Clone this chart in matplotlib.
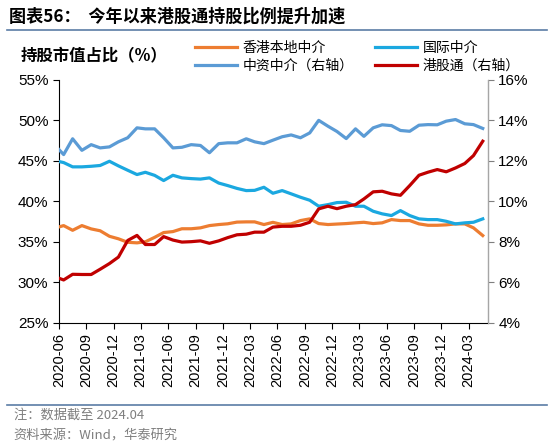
import numpy as np
import pandas as pd
import matplotlib
matplotlib.use("Agg")
from matplotlib import pyplot as plt
import matplotlib.dates as mdates
from matplotlib.lines import Line2D

plt.rcParams['font.family'] = ['Liberation Sans', 'Noto Sans CJK SC', 'DejaVu Sans']
cjk = ['Noto Sans CJK SC', 'DejaVu Sans']

# monthly points, 2020-05 .. 2024-04 (first one sits just left of the axis)
dates = pd.date_range("2020-05-01", periods=48, freq="MS") + pd.Timedelta(days=16)

hk_local = [36.68, 37.01, 36.43, 37.01, 36.60, 36.37, 35.69, 35.38, 34.95, 34.88,
            35.01, 35.56, 36.15, 36.27, 36.62, 36.62, 36.73, 37.01, 37.14, 37.23,
            37.44, 37.47, 37.47, 37.14, 37.41, 37.14, 37.22, 37.63, 37.84, 37.26,
            37.14, 37.20, 37.26, 37.35, 37.42, 37.26, 37.35, 37.75, 37.63, 37.63,
            37.22, 37.05, 37.05, 37.10, 37.22, 37.22, 36.73, 35.78]
intl = [45.04, 44.79, 44.26, 44.26, 44.33, 44.43, 44.95, 44.38, 43.84, 43.31,
        43.59, 43.21, 42.57, 43.22, 42.90, 42.81, 42.75, 42.90, 42.26, 41.95,
        41.60, 41.33, 41.36, 41.74, 41.00, 41.33, 40.93, 40.51, 40.14, 39.40,
        39.60, 39.85, 39.89, 39.40, 39.40, 38.78, 38.46, 38.25, 38.86, 38.25,
        37.84, 37.75, 37.75, 37.54, 37.22, 37.35, 37.42, 37.84]
cn_broker = [12.80, 12.31, 13.09, 12.52, 12.80, 12.64, 12.69, 12.94, 13.14, 13.63,
             13.58, 13.58, 13.14, 12.64, 12.67, 12.80, 12.76, 12.40, 12.85, 12.89,
             12.89, 13.09, 12.94, 12.85, 13.02, 13.19, 13.28, 13.14, 13.38, 14.00,
             13.71, 13.45, 13.10, 13.58, 13.21, 13.63, 13.78, 13.74, 13.50, 13.46,
             13.76, 13.79, 13.78, 13.96, 14.04, 13.83, 13.79, 13.60]
connect = [6.29, 6.12, 6.40, 6.39, 6.39, 6.65, 6.93, 7.25, 8.07, 8.32,
           7.87, 7.87, 8.26, 8.09, 7.99, 8.01, 8.05, 7.93, 8.05, 8.21,
           8.35, 8.38, 8.48, 8.48, 8.73, 8.77, 8.77, 8.82, 8.97, 9.63,
           9.76, 9.64, 9.76, 9.84, 10.12, 10.47, 10.50, 10.37, 10.30, 10.78,
           11.29, 11.44, 11.57, 11.46, 11.65, 11.87, 12.26, 12.97]

c_orange = "#ED7D31"
c_light = "#1BA8E0"
c_steel = "#5B9BD5"
c_red = "#C00000"
grey = "#7F7F7F"
lw = 2.3

fig = plt.figure(figsize=(5.5, 4.46), dpi=100)
ax = fig.add_axes([0.107, 0.276, 0.78, 0.545])
ax2 = ax.twinx()

ax.plot(dates, hk_local, color=c_orange, lw=lw, zorder=3)
ax.plot(dates, intl, color=c_light, lw=lw, zorder=3)
ax2.plot(dates, cn_broker, color=c_steel, lw=lw)
ax2.plot(dates, connect, color=c_red, lw=lw)

ax.set_xlim(pd.Timestamp("2020-06-01"), pd.Timestamp("2024-05-04"))
ax.set_ylim(25, 55)
ax2.set_ylim(4, 16)
ax.set_yticks(np.arange(25, 56, 5))
ax2.set_yticks(np.arange(4, 17, 2))
ax.yaxis.set_major_formatter(plt.FuncFormatter(lambda v, p: f"{v:.0f}%"))
ax2.yaxis.set_major_formatter(plt.FuncFormatter(lambda v, p: f"{v:.0f}%"))

ax.set_xticks(pd.date_range("2020-06-01", "2024-03-01", freq="3MS"))
ax.xaxis.set_major_formatter(mdates.DateFormatter("%Y-%m"))
ax.tick_params(axis="x", rotation=90, labelsize=10.5, length=4, color="black")
ax.tick_params(axis="y", labelsize=11, length=4, color="black")
ax2.tick_params(axis="y", labelsize=11, length=4, color=grey)

for a in (ax, ax2):
    a.spines["top"].set_visible(False)
ax.spines["left"].set_color("black")
ax.spines["bottom"].set_color("black")
ax2.spines["left"].set_visible(False)
ax2.spines["bottom"].set_visible(False)
ax2.spines["right"].set_color("#A6A6A6")

# title and header
fig.text(0.016, 0.962, "图表56：  今年以来港股通持股比例提升加速", family=cjk,
         fontsize=12.3, fontweight="bold", va="center", ha="left")
fig.add_artist(Line2D([0.013, 0.995], [0.933, 0.933], color="#5B7DA6", lw=1.2))
fig.text(0.038, 0.876, "持股市值占比（%）", family=cjk, fontsize=11.8,
         fontweight="bold", va="center", ha="left")

handles = [Line2D([], [], color=c_orange, lw=lw), Line2D([], [], color=c_steel, lw=lw),
           Line2D([], [], color=c_light, lw=lw), Line2D([], [], color=c_red, lw=lw)]
labels = ["香港本地中介", "中资中介（右轴）", "国际中介", "港股通（右轴）"]
fig.legend(handles, labels, ncol=2, loc="center left", bbox_to_anchor=(0.342, 0.873),
           frameon=False, prop={"family": cjk, "size": 10}, handlelength=3.0,
           handletextpad=0.4, columnspacing=1.6, labelspacing=0.25, borderpad=0)

# footer
fig.add_artist(Line2D([0.013, 0.995], [0.093, 0.093], color="#5B7DA6", lw=1.2))
fig.text(0.025, 0.070, "注：数据截至 2024.04", family=cjk, fontsize=9.5,
         color=grey, va="center", ha="left")
fig.text(0.025, 0.023, "资料来源：Wind，华泰研究", family=cjk, fontsize=9.5,
         color=grey, va="center", ha="left")

fig.savefig("out.png", dpi=100)
